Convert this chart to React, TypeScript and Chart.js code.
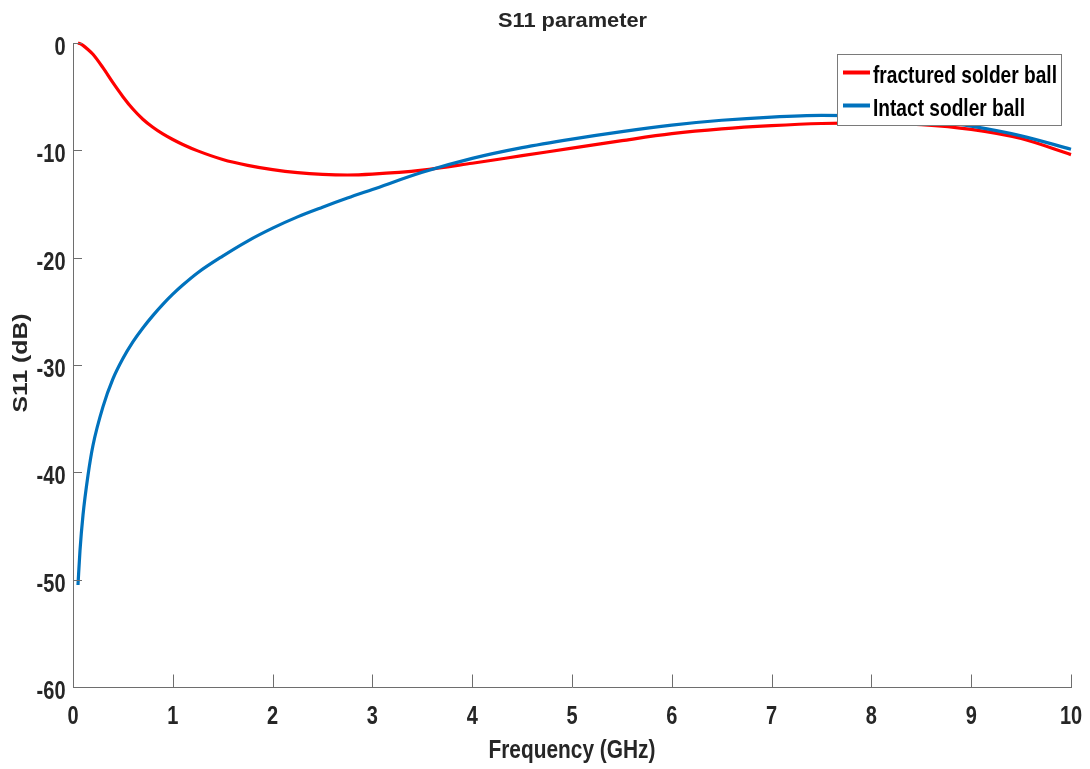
import React, { useEffect, useRef } from "react";
import { Chart, registerables } from "chart.js";

Chart.register(...registerables);

// Frequency samples (GHz)
const freqGHz = [
  0.05, 0.07, 0.1, 0.15, 0.2, 0.3, 0.4, 0.5, 0.6, 0.7, 0.8, 0.9, 1.0, 1.1, 1.25, 1.5, 1.75, 2.0,
  2.25, 2.5, 2.75, 3.0, 3.5, 4.0, 4.5, 5.0, 5.5, 6.0, 6.5, 7.0, 7.5, 8.0, 8.5, 9.0, 9.5, 10.0,
];

// S11 (dB) for fractured solder ball
const fracturedS11 = [
  0, -0.06, -0.22, -0.6, -1.05, -2.3, -3.7, -5.0, -6.15, -7.1, -7.85, -8.47, -8.99, -9.45,
  -10.05, -10.85, -11.4, -11.8, -12.08, -12.24, -12.3, -12.22, -11.85, -11.2, -10.5, -9.8,
  -9.1, -8.45, -8.0, -7.7, -7.5, -7.45, -7.6, -8.05, -8.9, -10.4,
];

// S11 (dB) for intact solder ball
const intactS11 = [
  -50.5, -47.3, -44.0, -40.3, -37.5, -33.9, -31.3, -29.4, -27.85, -26.55, -25.4, -24.35, -23.4,
  -22.55, -21.4, -19.85, -18.45, -17.25, -16.2, -15.3, -14.45, -13.65, -12.05, -10.75, -9.75,
  -8.95, -8.25, -7.65, -7.2, -6.9, -6.75, -6.8, -7.1, -7.75, -8.65, -9.9,
];

const xTickValues = [0, 1, 2, 3, 4, 5, 6, 7, 8, 9, 10];
const yTickValues = [0, -10, -20, -30, -40, -50, -60];

const seriesLabels = ["fractured solder ball", "Intact sodler ball"];
const seriesColors = ["#ff0000", "#0072bd"];

const chartTitle = "S11 parameter";
const xAxisTitle = "Frequency (GHz)";
const yAxisTitle = "S11 (dB)";

const FONT = "'Liberation Sans', Arial, sans-serif";

function squeezedText(
  ctx: CanvasRenderingContext2D,
  text: string,
  x: number,
  y: number,
  size: number,
  squeeze: number,
  align: CanvasTextAlign
) {
  ctx.save();
  ctx.font = `bold ${size}px ${FONT}`;
  ctx.textAlign = align;
  ctx.textBaseline = "alphabetic";
  ctx.translate(x, y);
  ctx.scale(squeeze, 1);
  ctx.fillText(text, 0, 0);
  ctx.restore();
}

function fitText(
  ctx: CanvasRenderingContext2D,
  text: string,
  x: number,
  y: number,
  size: number,
  width: number,
  align: CanvasTextAlign
) {
  ctx.save();
  ctx.font = `bold ${size}px ${FONT}`;
  const w = ctx.measureText(text).width;
  ctx.restore();
  squeezedText(ctx, text, x, y, size, width / w, align);
}

const decorPlugin = {
  id: "decor",
  afterDraw(chart: any) {
    const ctx = chart.ctx as CanvasRenderingContext2D;
    const area = chart.chartArea;
    const xs = chart.scales.x;
    const ys = chart.scales.y;
    ctx.save();

    // inward tick marks
    ctx.strokeStyle = "#6e6e6e";
    ctx.lineWidth = 1;
    xTickValues.forEach((v) => {
      const px = Math.round(xs.getPixelForValue(v)) + 0.5;
      ctx.beginPath();
      ctx.moveTo(px, area.bottom);
      ctx.lineTo(px, area.bottom - 12.5);
      ctx.stroke();
    });
    yTickValues.forEach((v) => {
      const py = Math.round(ys.getPixelForValue(v)) + 0.5;
      ctx.beginPath();
      ctx.moveTo(area.left, py);
      ctx.lineTo(area.left + 9, py);
      ctx.stroke();
    });

    // tick labels
    ctx.fillStyle = "#262626";
    xTickValues.forEach((v) => {
      squeezedText(ctx, String(v), xs.getPixelForValue(v), 723.5, 25, 0.8, "center");
    });
    yTickValues.forEach((v) => {
      squeezedText(ctx, String(v), 65.5, ys.getPixelForValue(v) + 12, 25, 0.8, "right");
    });

    const cx = (area.left + area.right) / 2;

    // title
    fitText(ctx, chartTitle, cx + 0.5, 26.5, 21, 149, "center");

    // x axis title
    fitText(ctx, xAxisTitle, cx, 758, 25, 167, "center");

    // y axis title (rotated)
    ctx.save();
    ctx.translate(27, (area.top + area.bottom) / 2 - 2);
    ctx.rotate(-Math.PI / 2);
    fitText(ctx, yAxisTitle, 0, 0, 21, 99, "center");
    ctx.restore();

    // legend
    const bx = 837.5, by = 54.5, bw = 224, bh = 71;
    ctx.fillStyle = "#ffffff";
    ctx.fillRect(bx, by, bw, bh);
    ctx.strokeStyle = "#7a7a7a";
    ctx.lineWidth = 1;
    ctx.strokeRect(bx, by, bw, bh);
    const rows = [
      { lineY: 72.5, base: 83, width: 184 },
      { lineY: 105.5, base: 116, width: 152 },
    ];
    rows.forEach((r, i) => {
      ctx.strokeStyle = seriesColors[i];
      ctx.lineWidth = 4;
      ctx.beginPath();
      ctx.moveTo(843, r.lineY);
      ctx.lineTo(870, r.lineY);
      ctx.stroke();
      ctx.fillStyle = "#000000";
      fitText(ctx, seriesLabels[i], 873, r.base, 24, r.width, "left");
    });

    ctx.restore();
  },
};

export default function App() {
  const canvasRef = useRef<HTMLCanvasElement | null>(null);

  useEffect(() => {
    document.body.style.margin = "0";
    const canvas = canvasRef.current;
    if (!canvas) return;
    const chart = new Chart(canvas, {
      type: "line",
      data: {
        datasets: [
          {
            label: seriesLabels[0],
            data: freqGHz.map((f, i) => ({ x: f, y: fracturedS11[i] })),
            borderColor: seriesColors[0],
            backgroundColor: seriesColors[0],
            borderWidth: 3.2,
            pointRadius: 0,
            cubicInterpolationMode: "monotone",
            order: 2,
            clip: 6,
          } as any,
          {
            label: seriesLabels[1],
            data: freqGHz.map((f, i) => ({ x: f, y: intactS11[i] })),
            borderColor: seriesColors[1],
            backgroundColor: seriesColors[1],
            borderWidth: 3.2,
            pointRadius: 0,
            cubicInterpolationMode: "monotone",
            order: 1,
            clip: 6,
          } as any,
        ],
      },
      options: {
        animation: false,
        responsive: false,
        maintainAspectRatio: false,
        layout: { padding: { top: 43, right: 19, left: 0, bottom: 0 } },
        plugins: {
          legend: { display: false },
          title: { display: false },
          tooltip: { enabled: false },
        },
        scales: {
          x: {
            type: "linear",
            min: 0,
            max: 10,
            afterBuildTicks: (scale: any) => {
              scale.ticks = xTickValues.map((v) => ({ value: v }));
            },
            afterFit: (scale: any) => {
              scale.height = 82;
            },
            grid: { display: false, drawTicks: false },
            border: { display: true, color: "#6e6e6e", width: 1 },
            ticks: { display: false },
          },
          y: {
            type: "linear",
            min: -60,
            max: 0,
            afterBuildTicks: (scale: any) => {
              scale.ticks = yTickValues.map((v) => ({ value: v }));
            },
            afterFit: (scale: any) => {
              scale.width = 73;
            },
            grid: { display: false, drawTicks: false },
            border: { display: true, color: "#6e6e6e", width: 1 },
            ticks: { display: false },
          },
        },
      } as any,
      plugins: [decorPlugin],
    });
    return () => chart.destroy();
  }, []);

  return (
    <div style={{ position: "absolute", left: 0, top: 0, width: 1090, height: 769, background: "#ffffff" }}>
      <canvas ref={canvasRef} width={1090} height={769} style={{ width: 1090, height: 769 }} />
    </div>
  );
}
